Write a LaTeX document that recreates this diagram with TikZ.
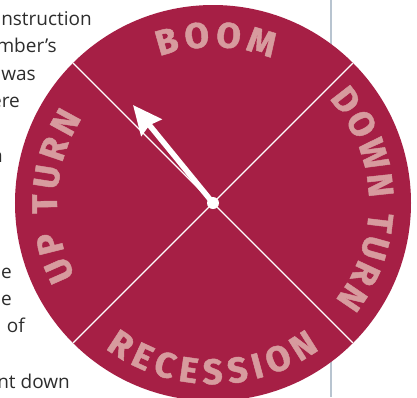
\documentclass[tikz,border=0pt]{standalone}
\usepackage{fontspec}
\setmainfont{Open Sans}
\newfontfamily\wheelface{Fira Sans}[FakeBold=1.3]
\usetikzlibrary{arrows.meta,decorations.text}

\definecolor{wheelred}{RGB}{166,31,69}
\definecolor{wheelpink}{RGB}{215,155,158}
\definecolor{bodygray}{RGB}{45,45,45}
\definecolor{rulegray}{RGB}{184,196,208}

\newcommand{\wheelfont}{\color{wheelpink}\wheelface\bfseries\fontsize{35.5}{35.5}\selectfont}

\begin{document}
\begin{tikzpicture}[x=1pt, y=1pt,
    body/.style = {anchor=base east, inner sep=0pt, text=bodygray, font=\fontsize{19}{23}\selectfont},
    divider/.style = {draw=white, line width=1.2pt},
    hand/.style = {draw=white, line width=5.5pt, -{Stealth[length=29pt, width=26pt, inset=3pt]}},
    rimlabel/.style = {decorate, decoration={text along path, text align={fit to path}, text={#1}}}]
    \useasboundingbox (-213,-194) rectangle (204,203);
    \clip (-213,-194) rectangle (204,203);

    % column text left of the wheel
    \node[body] (l1) at (-121,178) {nstruction};
    \node[body] (l2) at (-156,151) {mber's};
    \node[body] (l3) at (-177,123) {was};
    \node[body] (l4) at (-193,96) {ere};
    \node[body] (l5) at (-210,41) {n};
    \node[body] (l6) at (-201,-75) {e};
    \node[body] (l7) at (-201,-102) {e};
    \node[body] (l8) at (-188,-129) {of};
    \node[body] (l9) at (-143,-185) {nt down};

    % rule between columns
    \draw[rulegray, line width=2.2pt] (118,203) -- (118,-194);

    % the wheel
    \node[circle, fill=wheelred, minimum size=396pt, inner sep=0pt] (wheel) at (0,0) {};
    \coordinate (hub) at (0,0);
    \foreach \a in {45,135,225,315}
        \coordinate (rim\a) at (\a:198pt);
    \foreach \a in {45,135,225,315}
        \draw[divider] (hub) -- (rim\a);

    \path[rimlabel={|\wheelfont|BOOM}] (110:156pt) arc (110:68:156pt);
    \path[rimlabel={|\wheelfont|DOWN TURN}] (42:156pt) arc (42:-38.5:156pt);
    \path[rimlabel={|\wheelfont|RECESSION}] (233.5:181pt) arc (233.5:306:181pt);
    \path[rimlabel={|\wheelfont|UP TURN}] (208:156pt) arc (208:147:156pt);

    % pointer
    \coordinate (tip) at (-80,98);
    \draw[hand] (hub) -- (tip);
    \node[circle, fill=white, minimum size=12pt, inner sep=0pt] (pin) at (hub) {};
\end{tikzpicture}
\end{document}
